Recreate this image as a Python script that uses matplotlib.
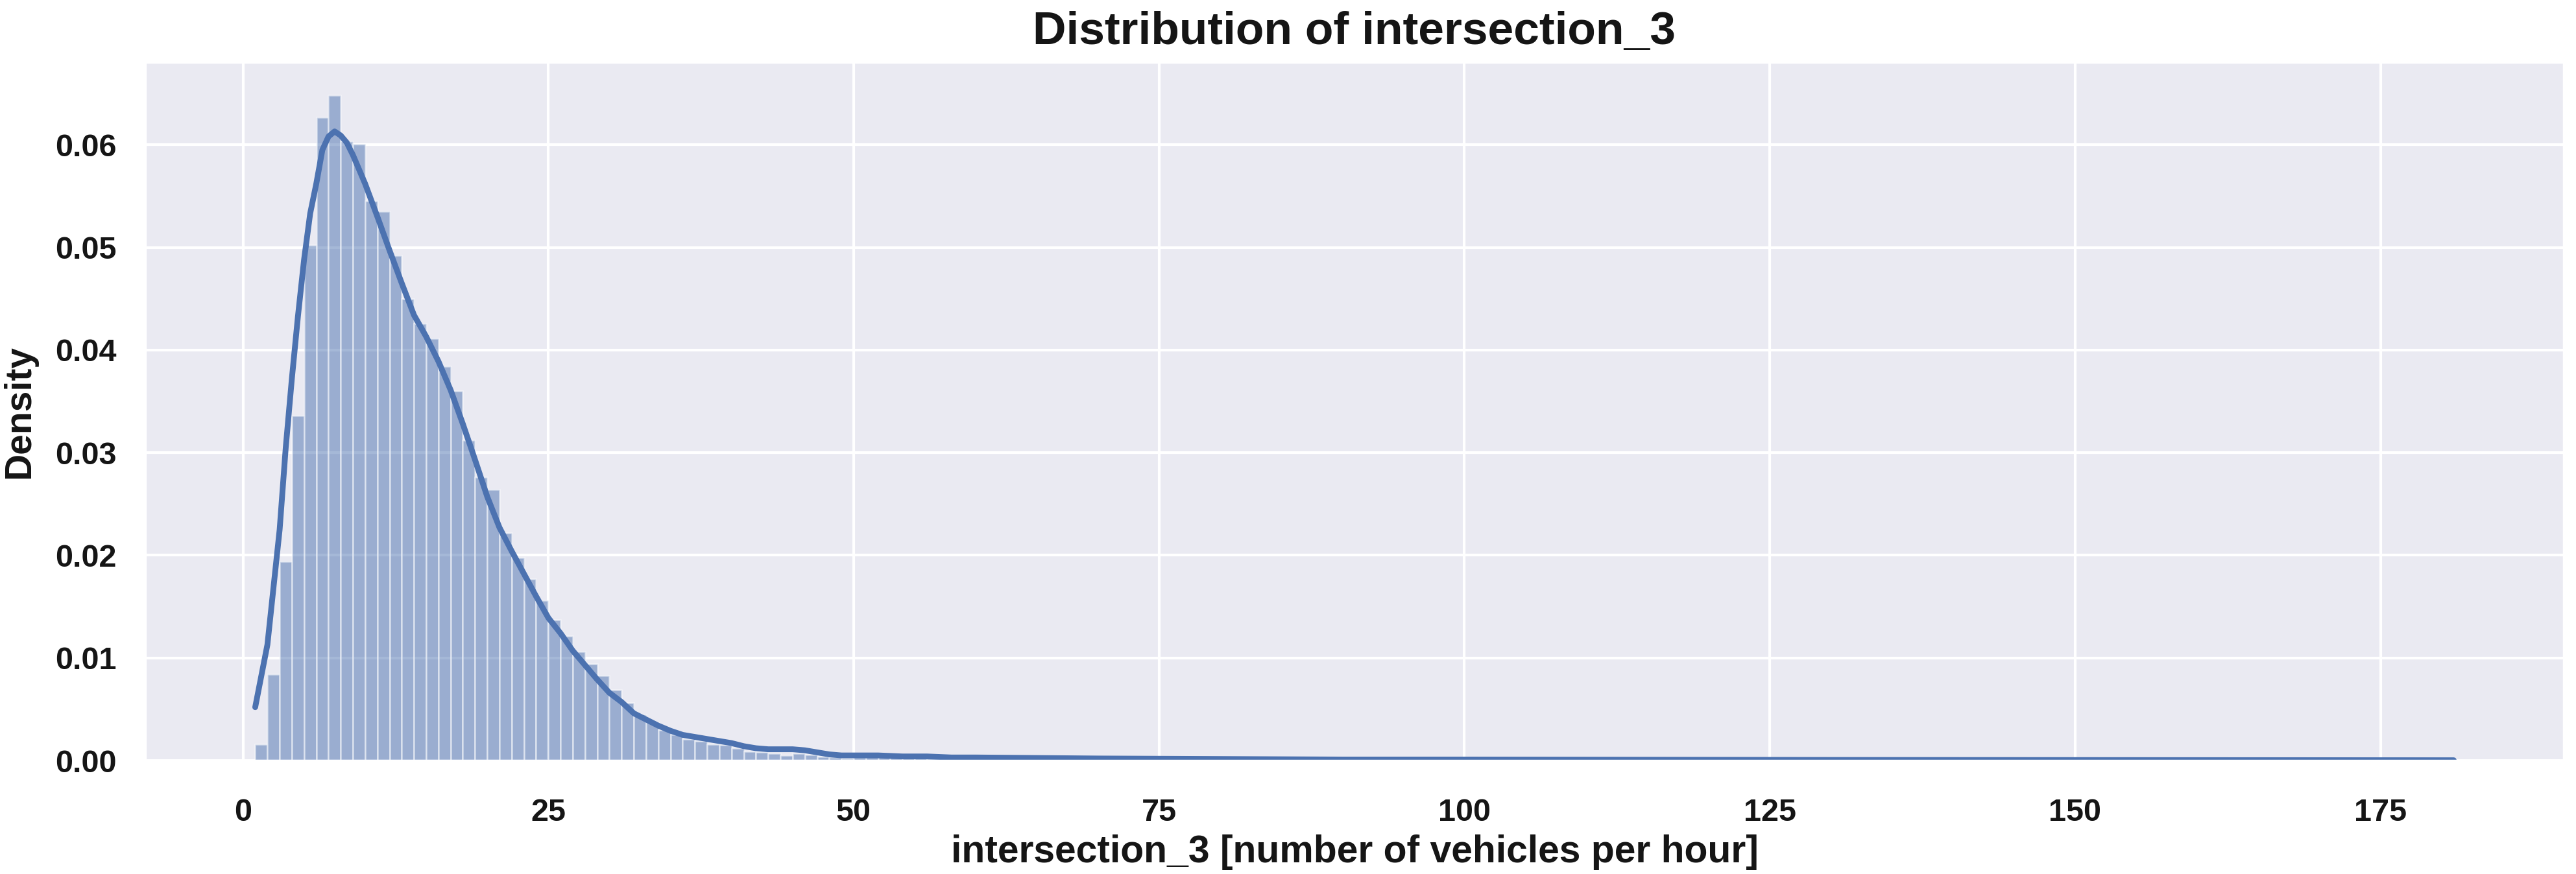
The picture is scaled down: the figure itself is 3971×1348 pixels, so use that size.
import numpy as np
import matplotlib
matplotlib.use("Agg")
import matplotlib.pyplot as plt
import seaborn as sns
from matplotlib.ticker import MultipleLocator, FormatStrFormatter

# histogram bins (width 1, left edges 1..180) and density
bin_left = np.arange(1, 181)
density = [
    0.0016, 0.0084, 0.0194, 0.0336, 0.0502, 0.0627, 0.0648, 0.0603, 0.0601, 0.0545,   # 1-10
    0.0535, 0.0492, 0.0450, 0.0426, 0.0411, 0.0384, 0.0360, 0.0312, 0.0276, 0.0264,   # 11-20
    0.0222, 0.0198, 0.0177, 0.0156, 0.0137, 0.0121, 0.0106, 0.0094, 0.0083, 0.0069,   # 21-30
    0.0056, 0.0045, 0.0037, 0.0030, 0.0025, 0.0021, 0.0019, 0.0016, 0.0015, 0.0012,   # 31-40
    0.0009, 0.0008, 0.0007, 0.0005, 0.0007, 0.0006, 0.0004, 0.0003, 0.0002, 0.0003,   # 41-50
    0.0004, 0.0004, 0.0003, 0.0003, 0.0003, 0.0002, 0.0002, 0.0002, 0.0002, 0.0002,   # 51-60
    0.0002, 0.0002, 0.00015, 0.00015, 0.00015, 0.00015, 0.0001, 0.0001, 0.0001, 0.0001,  # 61-70
    0.0001, 0.0001, 0.0001, 0.0001, 0.0001, 0.0001, 0.00008, 0.00008, 0.00008, 0.00008,  # 71-80
    0.00007, 0.00007, 0.00007, 0.00007, 0.00006, 0.00006, 0.00006, 0.00006, 0.00006, 0.00006,  # 81-90
    0.00005, 0.00005, 0.00005, 0.00005, 0.00005, 0.00005, 0.00005, 0.00005, 0.00005, 0.00005,  # 91-100
    0.00004, 0.00004, 0.00004, 0.00004, 0.00004, 0.00004, 0.00004, 0.00004, 0.00004, 0.00004,  # 101-110
    0.00004, 0.00004, 0.00003, 0.00003, 0.00003, 0.00003, 0.00003, 0.00003, 0.00003, 0.00003,  # 111-120
    0.00003, 0.00003, 0.00003, 0.00003, 0.00003, 0.00003, 0.00003, 0.00003, 0.00003, 0.00003,  # 121-130
    0.00002, 0.00002, 0.00002, 0.00002, 0.00002, 0.00002, 0.00002, 0.00002, 0.00002, 0.00002,  # 131-140
    0.00002, 0.00002, 0.00002, 0.00002, 0.00002, 0.00002, 0.00002, 0.00002, 0.00002, 0.00002,  # 141-150
    0.00002, 0.00002, 0.00002, 0.00002, 0.00002, 0.00002, 0.00002, 0.00002, 0.00002, 0.00002,  # 151-160
    0.00001, 0.00001, 0.00001, 0.00001, 0.00001, 0.00001, 0.00001, 0.00001, 0.00001, 0.00001,  # 161-170
    0.00001, 0.00001, 0.00001, 0.00001, 0.00001, 0.00001, 0.00001, 0.00001, 0.00001, 0.00002,  # 171-180
]

# kde curve
kde_x = [1, 2, 3, 3.5, 4, 4.5, 5, 5.5, 6, 6.5, 7, 7.5, 8, 8.5, 9, 10, 11, 12, 13, 14,
         15, 16, 17, 18, 19, 20, 21, 22, 23, 24, 25, 26, 27, 28, 29, 30, 31, 32, 33, 34,
         35, 36, 37, 38, 39, 40, 41, 42, 43, 44, 45, 46, 47, 48, 49, 50, 52, 54, 56, 58,
         60, 65, 70, 80, 90, 100, 115, 130, 150, 165, 181]
kde_y = [0.0052, 0.0113, 0.0225, 0.0305, 0.0372, 0.0433, 0.0488, 0.0533, 0.0562, 0.0595,
         0.0608, 0.0613, 0.0609, 0.0602, 0.0590, 0.0562, 0.0530, 0.0497, 0.0465, 0.0434,
         0.0413, 0.0389, 0.0361, 0.0328, 0.0293, 0.0257, 0.0227, 0.0204, 0.0182, 0.0160,
         0.0139, 0.0124, 0.0107, 0.0093, 0.0079, 0.0066, 0.0057, 0.0046, 0.0040, 0.0034,
         0.0029, 0.0025, 0.0023, 0.0021, 0.0019, 0.0017, 0.0014, 0.0012, 0.0011, 0.0011,
         0.0011, 0.0010, 0.0008, 0.0006, 0.0005, 0.0005, 0.0005, 0.0004, 0.0004, 0.0003,
         0.0003, 0.00025, 0.0002, 0.00015, 0.0001, 0.0001, 0.00008, 0.00006, 0.00005, 0.00004,
         0.00003]

title = "Distribution of intersection_3"
xlabel = "intersection_3 [number of vehicles per hour]"
ylabel = "Density"

sns.set_theme(style="darkgrid")
plt.rcParams["font.family"] = ["Liberation Sans", "DejaVu Sans"]
plt.rcParams["font.weight"] = "bold"
ink = "#151515"

blue = "#4C72B0"

fig = plt.figure(figsize=(3971 / 200, 1348 / 200), dpi=200)
ax = fig.add_axes([0.0564, 0.1298, 0.9388, 0.7990])

ax.bar(bin_left, density, width=1, align="edge", color=blue, alpha=0.5,
       edgecolor="white", linewidth=0.9)
ax.plot(kde_x, kde_y, color=blue, linewidth=3.2)

ax.xaxis.set_major_locator(MultipleLocator(25))
ax.yaxis.set_major_locator(MultipleLocator(0.01))
ax.yaxis.set_major_formatter(FormatStrFormatter("%.2f"))
ax.grid(True, color="white", linewidth=1.5)
ax.tick_params(axis="both", length=0, labelsize=17.5, labelcolor=ink)
ax.tick_params(axis="x", pad=21)
ax.tick_params(axis="y", pad=16)
for lbl in ax.get_xticklabels() + ax.get_yticklabels():
    lbl.set_fontweight("bold")

ax.set_title(title, fontsize=25.7, fontweight="bold", color=ink, pad=10)
ax.set_xlabel(xlabel, fontsize=21.2, fontweight="bold", color=ink, labelpad=4)
ax.set_ylabel(ylabel, fontsize=20.5, fontweight="bold", color=ink, labelpad=10)

fig.savefig("out.png", dpi=200)
